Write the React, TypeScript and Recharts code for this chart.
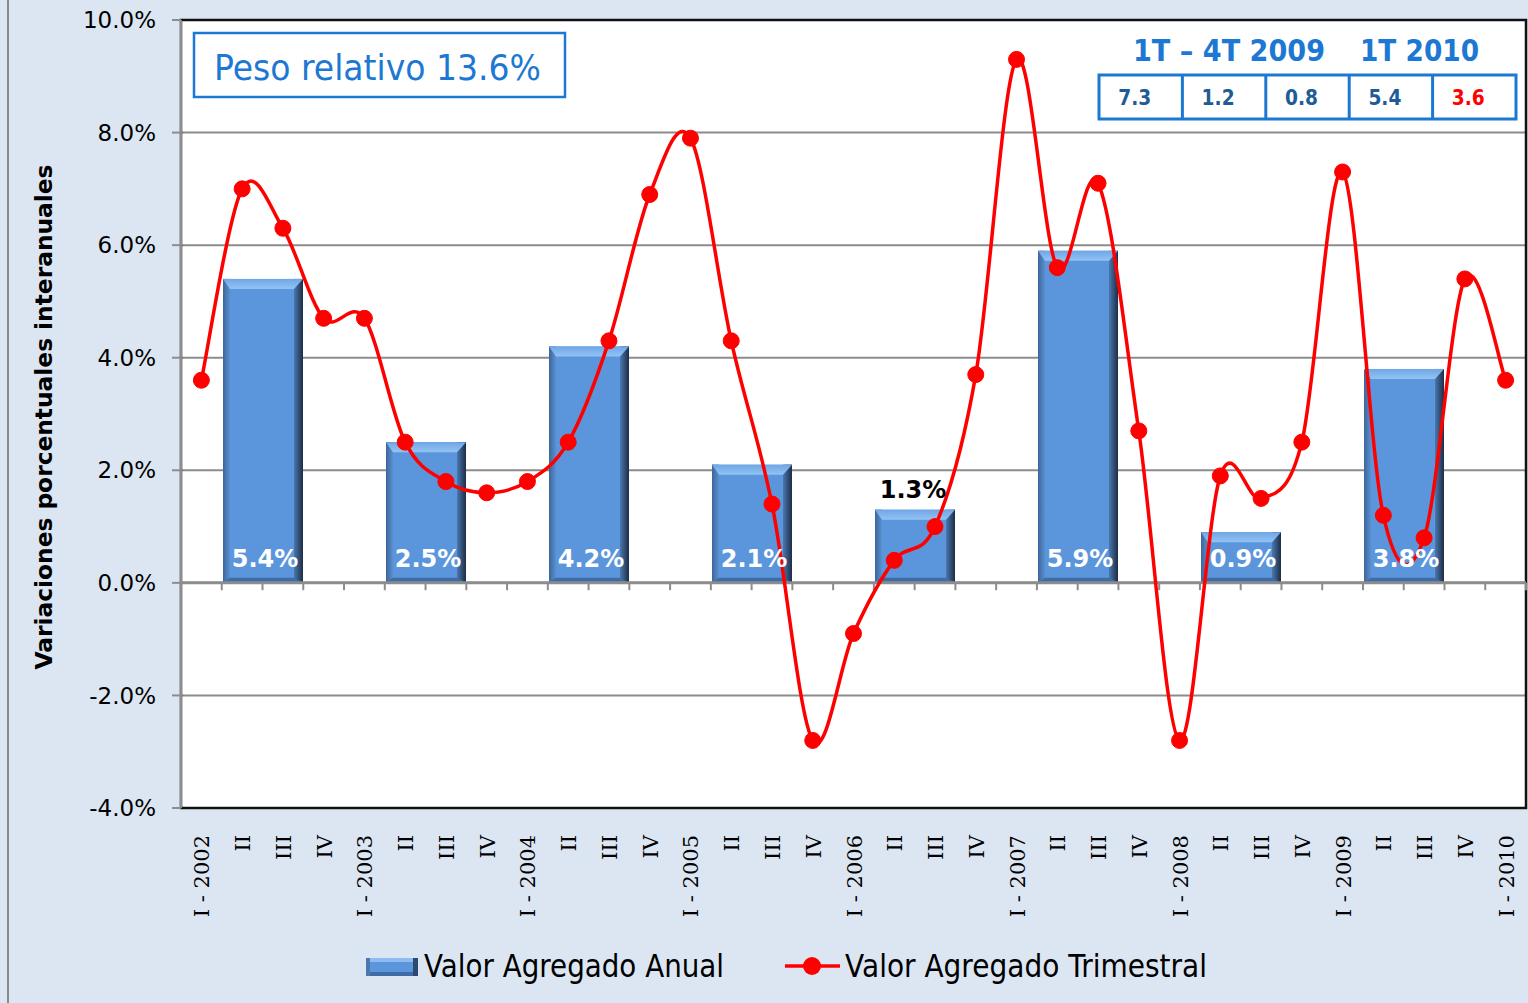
import React from "react";
import {
  ComposedChart,
  Bar,
  Line,
  XAxis,
  YAxis,
  CartesianGrid,
  ReferenceLine,
  ReferenceArea,
  LabelList,
} from "recharts";

const QUARTERS = [
  "I - 2002", "II", "III", "IV",
  "I - 2003", "II", "III", "IV",
  "I - 2004", "II", "III", "IV",
  "I - 2005", "II", "III", "IV",
  "I - 2006", "II", "III", "IV",
  "I - 2007", "II", "III", "IV",
  "I - 2008", "II", "III", "IV",
  "I - 2009", "II", "III", "IV",
  "I - 2010",
];

const TRIMESTRAL = [
  3.6, 7.0, 6.3, 4.7,
  4.7, 2.5, 1.8, 1.6,
  1.8, 2.5, 4.3, 6.9,
  7.9, 4.3, 1.4, -2.8,
  -0.9, 0.4, 1.0, 3.7,
  9.3, 5.6, 7.1, 2.7,
  -2.8, 1.9, 1.5, 2.5,
  7.3, 1.2, 0.8, 5.4,
  3.6,
];

const YEARS = ["2002", "2003", "2004", "2005", "2006", "2007", "2008", "2009"];
const ANUAL = [5.4, 2.5, 4.2, 2.1, 1.3, 5.9, 0.9, 3.8];
// the one annual label that sits above its bar, in black
const LABEL_ABOVE = ["2006"];

const Y_TICKS = [-4, -2, 0, 2, 4, 6, 8, 10];

const TABLE_HEADERS = ["1T \u2013 4T 2009", "1T 2010"];
const TABLE_VALUES = ["7.3", "1.2", "0.8", "5.4", "3.6"];

const yearRows = YEARS.map((year, i) => ({ year, anual: ANUAL[i] }));
const quarterRows = QUARTERS.map((label, i) => ({ q: i, label, trimestral: TRIMESTRAL[i] }));
const quarterIdx = QUARTERS.map((_, i) => i);
const boundaries = [...quarterIdx.map((i) => i - 0.5), QUARTERS.length - 0.5];

const BLUE = "#1c78d2";
const DARK_BLUE = "#1f5b97";
const BG = "#dce6f2";

// smooth curve through the points (Catmull-Rom, like Excel's smoothed line)
function smoothCurve(context: any) {
  let pts: number[][] = [];
  return {
    areaStart() {},
    areaEnd() {},
    lineStart() {
      pts = [];
    },
    point(x: number, y: number) {
      pts.push([+x, +y]);
    },
    lineEnd() {
      if (!pts.length) return;
      context.moveTo(pts[0][0], pts[0][1]);
      for (let i = 0; i < pts.length - 1; i++) {
        const p0 = pts[i - 1] || pts[i];
        const p1 = pts[i];
        const p2 = pts[i + 1];
        const p3 = pts[i + 2] || p2;
        context.bezierCurveTo(
          p1[0] + (p2[0] - p0[0]) / 6,
          p1[1] + (p2[1] - p0[1]) / 6,
          p2[0] - (p3[0] - p1[0]) / 6,
          p2[1] - (p3[1] - p1[1]) / 6,
          p2[0],
          p2[1]
        );
      }
    },
  };
}

function BevelBar(props: any) {
  const { x, y, width, height } = props;
  if (!height || height <= 0) return null;
  const side = 7;
  const top = Math.min(10, height / 3);
  return (
    <g>
      <rect x={x} y={y} width={width} height={height} fill="#5b96dc" />
      <rect x={x} y={y} width={side} height={height} fill="url(#barLeft)" />
      <rect x={x + width - side - 2} y={y} width={side + 2} height={height} fill="url(#barRight)" />
      <polygon
        points={`${x},${y} ${x + width},${y} ${x + width - side - 2},${y + top} ${x + side},${y + top}`}
        fill="url(#barTop)"
      />
      <polygon
        points={`${x},${y + height} ${x + width},${y + height} ${x + width - side - 2},${y + height - 5} ${x + side},${y + height - 5}`}
        fill="#3f6ca6"
      />
    </g>
  );
}

function BarValueLabel(props: any) {
  const { x, y, width, height, value, index } = props;
  const above = LABEL_ABOVE.includes(YEARS[index]);
  return (
    <text
      x={x + width / 2 + (above ? -2 : 2)}
      y={above ? y - 12 : y + height - 16}
      textAnchor="middle"
      fill={above ? "#000" : "#fff"}
      fontFamily="DejaVu Sans"
      fontWeight="bold"
      fontSize={24}
    >
      {`${Number(value).toFixed(1)}%`}
    </text>
  );
}

function QuarterTick(props: any) {
  const { x, payload } = props;
  const tx = x + 8;
  const ty = 835;
  return (
    <text
      x={tx}
      y={ty}
      transform={`rotate(-90, ${tx}, ${ty})`}
      textAnchor="end"
      fill="#000"
      fontFamily="DejaVu Serif"
      fontSize={21}
    >
      {QUARTERS[payload.value]}
    </text>
  );
}

function Overlay() {
  const cellW = 83.4;
  const tableX = 1099;
  return (
    <svg
      width={1528}
      height={1003}
      style={{ position: "absolute", left: 0, top: 0, pointerEvents: "none" }}
    >
      <text
        x={52}
        y={417}
        transform="rotate(-90, 52, 417)"
        textAnchor="middle"
        fontFamily="DejaVu Sans"
        fontWeight="bold"
        fontSize={23}
        textLength={505}
        lengthAdjust="spacingAndGlyphs"
        fill="#000"
      >
        Variaciones porcentuales  interanuales
      </text>

      <rect x={194} y={33} width={371} height={64} fill="#fff" stroke={BLUE} strokeWidth={2.5} />
      <text
        x={214}
        y={80}
        fontFamily="DejaVu Sans"
        fontSize={35}
        textLength={327}
        lengthAdjust="spacingAndGlyphs"
        fill={BLUE}
      >
        Peso relativo 13.6%
      </text>

      <text x={1133} y={61} fontFamily="DejaVu Sans" fontWeight="bold" fontSize={30}
        textLength={192} lengthAdjust="spacingAndGlyphs" fill={BLUE}>
        {TABLE_HEADERS[0]}
      </text>
      <text x={1360} y={61} fontFamily="DejaVu Sans" fontWeight="bold" fontSize={30}
        textLength={119} lengthAdjust="spacingAndGlyphs" fill={BLUE}>
        {TABLE_HEADERS[1]}
      </text>
      <rect x={tableX} y={75} width={cellW * 5} height={44} fill="#fff" stroke={BLUE} strokeWidth={3} />
      {TABLE_VALUES.map((v, i) => (
        <g key={i}>
          {i > 0 && (
            <line x1={tableX + cellW * i} x2={tableX + cellW * i} y1={75} y2={119} stroke={BLUE} strokeWidth={3} />
          )}
          <text
            x={tableX + cellW * i + cellW / 2 - 6}
            y={105}
            textAnchor="middle"
            fontFamily="DejaVu Sans"
            fontWeight="bold"
            fontSize={21}
            textLength={33}
            lengthAdjust="spacingAndGlyphs"
            fill={i === TABLE_VALUES.length - 1 ? "#ff0000" : DARK_BLUE}
          >
            {v}
          </text>
        </g>
      ))}

      <g>
        <rect x={366} y={958} width={52} height={18} fill="#5b96dc" />
        <rect x={366} y={958} width={52} height={4} fill="#8dbdf0" />
        <rect x={366} y={972} width={52} height={4} fill="#3f6ca6" />
        <rect x={366} y={958} width={4} height={18} fill="#4a78b2" />
        <rect x={413} y={958} width={5} height={18} fill="#2b4a72" />
        <text x={424} y={977} fontFamily="DejaVu Sans" fontSize={32} textLength={300}
          lengthAdjust="spacingAndGlyphs" fill="#000">
          Valor Agregado Anual
        </text>
        <line x1={785} x2={840} y1={966} y2={966} stroke="#ff0000" strokeWidth={3.5} />
        <circle cx={812} cy={966} r={9} fill="#ff0000" />
        <text x={845} y={977} fontFamily="DejaVu Sans" fontSize={32} textLength={362}
          lengthAdjust="spacingAndGlyphs" fill="#000">
          Valor Agregado Trimestral
        </text>
      </g>
    </svg>
  );
}

export default function App() {
  return (
    <div
      style={{
        position: "fixed",
        left: 0,
        top: 0,
        width: 1528,
        height: 1003,
        background: BG,
        fontFamily: "DejaVu Sans",
        overflow: "hidden",
      }}
    >
      <div style={{ position: "absolute", left: 7, top: 0, width: 2, height: 1003, background: "#8a8a8a" }} />
      <ComposedChart
        width={1528}
        height={1003}
        data={yearRows}
        margin={{ top: 20, right: 2, bottom: 0, left: 0 }}
      >
        <defs>
          <linearGradient id="barLeft" x1="0" y1="0" x2="1" y2="0">
            <stop offset="0%" stopColor="#3d6699" />
            <stop offset="100%" stopColor="#5a90d2" />
          </linearGradient>
          <linearGradient id="barRight" x1="0" y1="0" x2="1" y2="0">
            <stop offset="0%" stopColor="#4a78b0" />
            <stop offset="100%" stopColor="#1c2d45" />
          </linearGradient>
          <linearGradient id="barTop" x1="0" y1="0" x2="0" y2="1">
            <stop offset="0%" stopColor="#6fa6e6" />
            <stop offset="100%" stopColor="#93c3f3" />
          </linearGradient>
        </defs>
        <CartesianGrid
          xAxisId="q"
          vertical={false}
          stroke="#8c8c8c"
          strokeWidth={2}
          fill="#fff"
          fillOpacity={1}
        />
        <XAxis
          xAxisId="q"
          dataKey="q"
          type="number"
          domain={[-0.5, QUARTERS.length - 0.5]}
          ticks={quarterIdx}
          interval={0}
          height={195}
          axisLine={false}
          tickLine={false}
          tickSize={0}
          tick={<QuarterTick />}
          allowDataOverflow
        />
        <XAxis
          xAxisId="yr"
          dataKey="year"
          type="category"
          hide
          padding={{ left: 0, right: 41 }}
        />
        <YAxis
          domain={[-4, 10]}
          ticks={Y_TICKS}
          interval={0}
          width={181}
          allowDataOverflow
          tickFormatter={(v: number) => `${v.toFixed(1)}%`}
          tick={{ fill: "#000", fontSize: 23, fontFamily: "DejaVu Sans" }}
          axisLine={{ stroke: "#8c8c8c", strokeWidth: 2 }}
          tickLine={{ stroke: "#8c8c8c", strokeWidth: 2 }}
          tickSize={9}
          tickMargin={16}
        />
        <Bar
          xAxisId="yr"
          dataKey="anual"
          barSize={80}
          shape={<BevelBar />}
          isAnimationActive={false}
        >
          <LabelList dataKey="anual" content={<BarValueLabel />} />
        </Bar>
        <ReferenceLine xAxisId="q" y={0} stroke="#8c8c8c" strokeWidth={3} />
        {boundaries.map((b) => (
          <ReferenceLine
            key={b}
            xAxisId="q"
            segment={[{ x: b, y: 0 }, { x: b, y: -0.13 }]}
            stroke="#8c8c8c"
            strokeWidth={2}
          />
        ))}
        <ReferenceArea
          xAxisId="q"
          x1={-0.5}
          x2={QUARTERS.length - 0.5}
          y1={-4}
          y2={10}
          fill="none"
          fillOpacity={0}
          stroke="#111"
          strokeWidth={2.5}
        />
        <Line
          xAxisId="q"
          data={quarterRows}
          dataKey="trimestral"
          type={smoothCurve as any}
          stroke="#ff0000"
          strokeWidth={3.5}
          dot={{ r: 8, fill: "#ff0000", stroke: "#ff0000", strokeWidth: 1 }}
          activeDot={false}
          isAnimationActive={false}
        />
      </ComposedChart>
      <Overlay />
    </div>
  );
}
